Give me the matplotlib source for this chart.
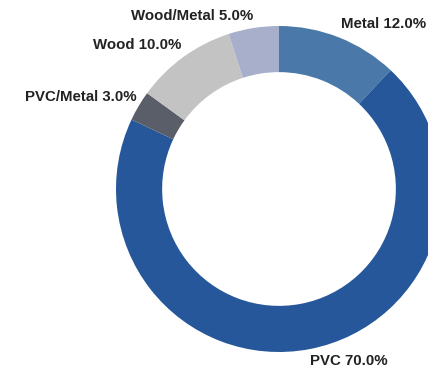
import matplotlib
matplotlib.use("Agg")
import matplotlib.pyplot as plt

# ---- data ----
categories = ["Metal", "PVC", "PVC/Metal", "Wood", "Wood/Metal"]
shares = [12.0, 70.0, 3.0, 10.0, 5.0]
colors = ["#4a78a8", "#26579a", "#595e68", "#c3c3c3", "#a7afcb"]

# label centres in pixels (x from left, y from top)
label_pos = [(384, 24), (349, 361), (81, 97), (137, 45), (192, 16)]

W, H = 428, 371
CX, CY, R = 279, 189, 163

plt.rcParams["font.family"] = ["Liberation Sans", "DejaVu Sans"]

fig = plt.figure(figsize=(W / 100, H / 100), dpi=100)
fig.patch.set_facecolor("white")
ax = fig.add_axes([0, 0, 1, 1])

ax.pie(shares, colors=colors, startangle=90, counterclock=False,
       center=(CX, H - CY), radius=R, frame=True,
       wedgeprops={"width": R * 0.283, "edgecolor": "none"})
ax.set_xlim(0, W)
ax.set_ylim(0, H)
ax.set_aspect("equal")
ax.axis("off")

for name, val, (x, y) in zip(categories, shares, label_pos):
    ax.text(x, H - y, f"{name} {val:.1f}%", ha="center", va="center",
            fontsize=10.8, fontweight="bold", color="#222222")

fig.savefig("out.png", dpi=100, facecolor="white")
